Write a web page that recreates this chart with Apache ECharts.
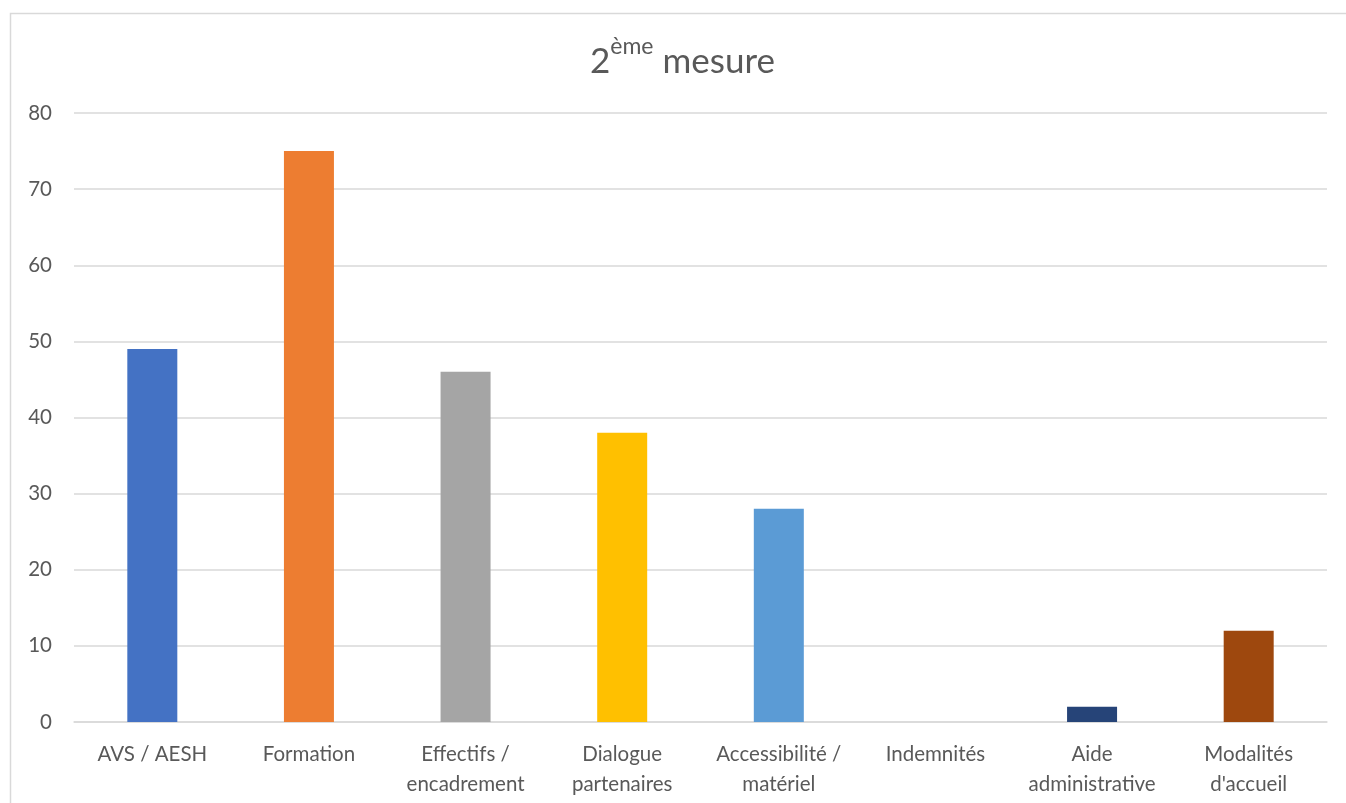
<!DOCTYPE html>
<html>
<head>
<meta charset="utf-8">
<script src="https://cdn.jsdelivr.net/npm/echarts@6/dist/echarts.min.js"></script>
<style>
  html, body { margin: 0; padding: 0; background: #fff; }
  #chart { width: 1346px; height: 803px; }
</style>
</head>
<body>
<div id="chart"></div>
<script>
// Categories of the second measure and the number of answers for each
const categories = [
  'AVS / AESH', 'Formation', 'Effectifs /\nencadrement', 'Dialogue\npartenaires',
  'Accessibilité /\nmatériel', 'Indemnités', 'Aide\nadministrative', 'Modalités\nd\'accueil'
];
const values = [49, 75, 46, 38, 28, 0, 2, 12];
const barColors = ['#4472C4', '#ED7D31', '#A5A5A5', '#FFC000', '#5B9BD5', '#70AD47', '#264478', '#9E480E'];
const yTicks = { min: 0, max: 80, interval: 10 };

const FONT = 'Lato, "Open Sans", sans-serif';
const chart = echarts.init(document.getElementById('chart'));

chart.setOption({
  animation: false,
  graphic: [{
    type: 'rect',
    shape: { x: 10.5, y: 13.5, width: 1400, height: 900 },
    style: { fill: 'none', stroke: '#D9D9D9', lineWidth: 1.5 },
    silent: true
  }],
  title: {
    text: '{base|2}{sup|ème}{base| mesure}',
    left: 590,
    top: 35,
    padding: 0,
    textStyle: {
      fontWeight: 'normal',
      rich: {
        base: { fontFamily: FONT, fontSize: 35, fontWeight: 'normal', color: '#595959', verticalAlign: 'bottom', lineHeight: 44 },
        sup: { fontFamily: FONT, fontSize: 23, fontWeight: 'normal', color: '#595959', verticalAlign: 'top', lineHeight: 44, padding: [0, 0, 14, 0] }
      }
    }
  },
  grid: { left: 74, right: 19, top: 113, bottom: 81 },
  xAxis: {
    type: 'category',
    data: categories,
    axisLine: { lineStyle: { color: '#D9D9D9', width: 1.5 } },
    axisTick: { show: false },
    axisLabel: {
      interval: 0,
      color: '#595959',
      fontFamily: FONT,
      fontSize: 20.5,
      lineHeight: 30,
      margin: 17
    }
  },
  yAxis: {
    type: 'value',
    min: yTicks.min,
    max: yTicks.max,
    interval: yTicks.interval,
    axisLine: { show: false },
    axisTick: { show: false },
    splitLine: { lineStyle: { color: '#D9D9D9', width: 1.5 } },
    axisLabel: { color: '#595959', fontFamily: FONT, fontSize: 20.5, margin: 22 }
  },
  series: [{
    type: 'bar',
    data: values.map((v, i) => ({ value: v, itemStyle: { color: barColors[i] } })),
    barWidth: 50
  }]
});
</script>
</body>
</html>
